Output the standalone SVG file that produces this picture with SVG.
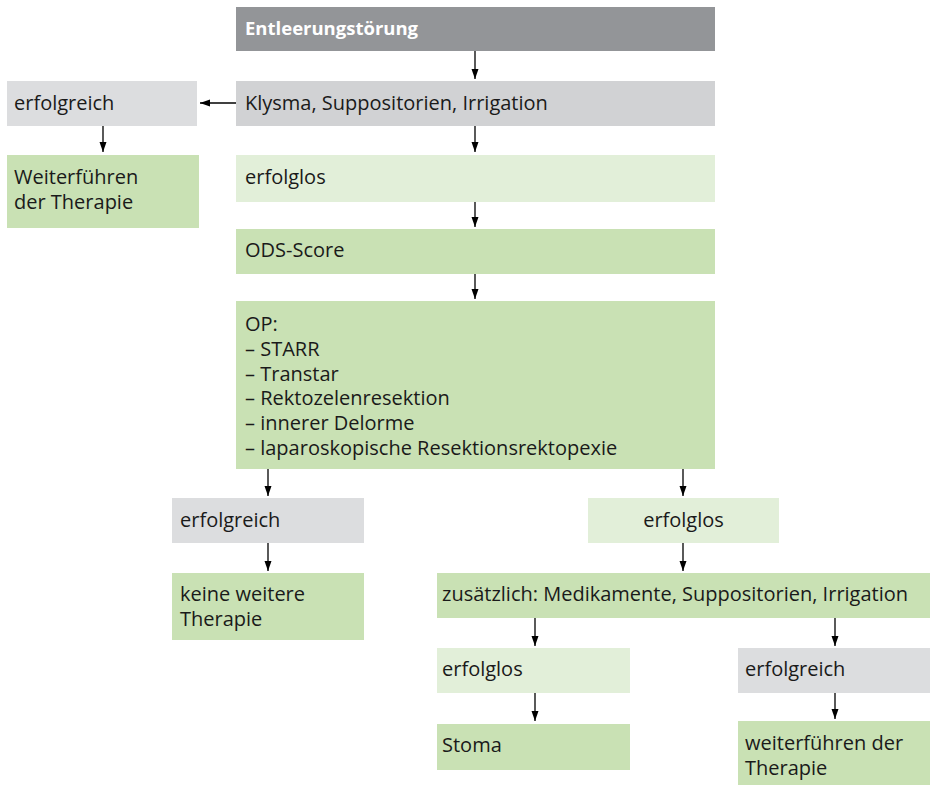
<svg xmlns="http://www.w3.org/2000/svg" width="930" height="785" viewBox="0 0 930 785">
<style>
  text { font-family: "Open Sans", "Noto Sans", "DejaVu Sans", sans-serif; font-size: 20px; fill: #1a1a1a; }
  .title { fill: #ffffff; font-weight: bold; font-size: 18.5px; }
  .dark { fill: #939598; }
  .grey { fill: #d1d2d4; }
  .lgrey { fill: #dcdddf; }
  .green { fill: #c9e1b4; }
  .lgreen { fill: #e2efd9; }
  .conn line { stroke: #000; stroke-width: 1.3; marker-end: url(#ah); }
</style>
<defs>
  <marker id="ah" markerUnits="userSpaceOnUse" markerWidth="11" markerHeight="8" refX="10" refY="3.5" orient="auto">
    <path d="M0,0 L10,3.5 L0,7 z" fill="#000"/>
  </marker>
</defs>
<rect width="930" height="785" fill="#fff"/>

<g id="n1"><rect class="dark" x="236" y="7" width="479" height="44"/><text class="title" x="245" y="35">Entleerungstörung</text></g>
<g id="n2"><rect class="grey" x="236" y="81" width="479" height="45"/><text x="245" y="110">Klysma, Suppositorien, Irrigation</text></g>
<g id="n3"><rect class="lgrey" x="7" y="81" width="190" height="45"/><text x="14" y="110">erfolgreich</text></g>
<g id="n4"><rect class="green" x="7" y="155" width="192" height="73"/><text x="14" y="184">Weiterführen<tspan x="14" dy="25">der Therapie</tspan></text></g>
<g id="n5"><rect class="lgreen" x="236" y="155" width="479" height="47"/><text x="245" y="184">erfolglos</text></g>
<g id="n6"><rect class="green" x="236" y="229" width="479" height="45"/><text x="245" y="257">ODS-Score</text></g>
<g id="n7"><rect class="green" x="236" y="301" width="479" height="168"/>
  <text x="245" y="331">OP:<tspan x="245" dy="24.8">– STARR</tspan><tspan x="245" dy="24.8">– Transtar</tspan><tspan x="245" dy="24.8">– Rektozelenresektion</tspan><tspan x="245" dy="24.8">– innerer Delorme</tspan><tspan x="245" dy="24.8">– laparoskopische Resektionsrektopexie</tspan></text>
</g>
<g id="n8"><rect class="lgrey" x="172" y="498" width="192" height="45"/><text x="180" y="527">erfolgreich</text></g>
<g id="n9"><rect class="lgreen" x="588" y="498" width="191" height="45"/><text x="683.5" y="527" text-anchor="middle">erfolglos</text></g>
<g id="n10"><rect class="green" x="172" y="573" width="192" height="67"/><text x="180" y="601">keine weitere<tspan x="180" dy="25">Therapie</tspan></text></g>
<g id="n11"><rect class="green" x="437" y="573" width="493" height="45"/><text x="442" y="601">zusätzlich: Medikamente, Suppositorien, Irrigation</text></g>
<g id="n12"><rect class="lgreen" x="437" y="648" width="193" height="45"/><text x="442" y="676">erfolglos</text></g>
<g id="n13"><rect class="lgrey" x="738" y="648" width="192" height="45"/><text x="745" y="676">erfolgreich</text></g>
<g id="n14"><rect class="green" x="437" y="724" width="193" height="46"/><text x="442" y="752">Stoma</text></g>
<g id="n15"><rect class="green" x="738" y="721" width="192" height="64"/><text x="745" y="750">weiterführen der<tspan x="745" dy="25">Therapie</tspan></text></g>

<g id="connectors" class="conn">
  <line x1="475" y1="51" x2="475" y2="79"/>
  <line x1="236" y1="103" x2="200" y2="103"/>
  <line x1="103" y1="126" x2="103" y2="152"/>
  <line x1="475" y1="126" x2="475" y2="152"/>
  <line x1="475" y1="202" x2="475" y2="227"/>
  <line x1="475" y1="274" x2="475" y2="299"/>
  <line x1="268" y1="469" x2="268" y2="496"/>
  <line x1="683" y1="469" x2="683" y2="496"/>
  <line x1="268" y1="543" x2="268" y2="571"/>
  <line x1="683" y1="543" x2="683" y2="571"/>
  <line x1="535" y1="618" x2="535" y2="646"/>
  <line x1="835" y1="618" x2="835" y2="646"/>
  <line x1="535" y1="693" x2="535" y2="721"/>
  <line x1="835" y1="693" x2="835" y2="719"/>
</g>
</svg>
